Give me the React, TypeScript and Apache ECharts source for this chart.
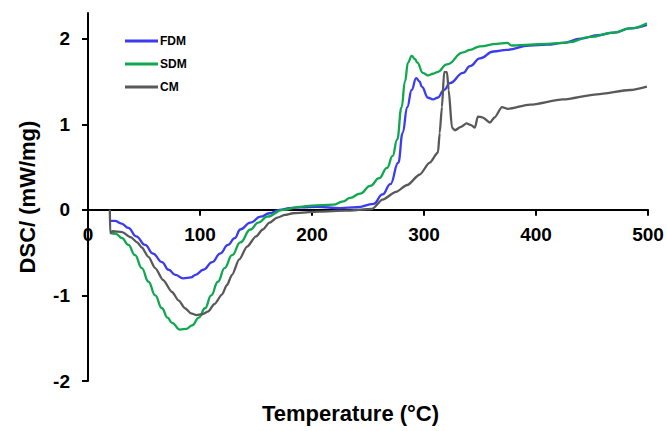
import React, { useEffect, useRef } from "react";
import * as echarts from "echarts";

const xTicks = [0, 100, 200, 300, 400, 500];
const yTicks = [-2, -1, 0, 1, 2];
const seriesNames = ["FDM", "SDM", "CM"];
const seriesColors = ["#3b3bf0", "#0fa84f", "#595959"];
const xTitle = "Temperature (°C)";
const yTitle = "DSC/ (mW/mg)";
const xMin = 0;
const xMax = 500;
const yMin = -2;
const yMax = 2.3;

const fdm: [number, number][] = [
  [19.6, -0.13], [24, -0.13], [30, -0.16], [36, -0.21], [43, -0.31], [51, -0.41],
  [58, -0.51], [66, -0.61], [72, -0.7], [78, -0.76], [85, -0.8], [92, -0.79],
  [96, -0.76], [103, -0.7], [111, -0.61], [118, -0.51], [125, -0.41], [131, -0.33],
  [136, -0.23], [145, -0.15], [154, -0.08], [162, -0.04], [171, 0], [180, 0.02],
  [190, 0.03], [205, 0.035], [225, 0.02], [240, 0.03], [255, 0.07], [263, 0.18],
  [270, 0.3], [277, 0.55], [281, 0.9], [285, 1.2], [289, 1.4], [293, 1.54],
  [296, 1.5], [298, 1.44], [303.6, 1.31], [308, 1.29], [312, 1.31], [318, 1.4],
  [323, 1.48], [335, 1.6], [341, 1.68], [350, 1.77], [362, 1.85], [374, 1.87],
  [394, 1.92], [410, 1.93], [424, 1.95], [440, 2.0], [455, 2.04], [470, 2.07],
  [484, 2.12], [499, 2.16],
];

const sdm: [number, number][] = [
  [19.6, -0.27], [25, -0.28], [30.4, -0.33], [36, -0.41], [42, -0.53], [48, -0.68],
  [54, -0.84], [60, -1.0], [66, -1.15], [71, -1.26], [75, -1.32], [82, -1.4],
  [88, -1.39], [93, -1.35], [99, -1.26], [104.5, -1.15], [110, -1.0], [116, -0.84],
  [122, -0.68], [128.6, -0.53], [136, -0.38], [145, -0.23], [152, -0.15], [160, -0.08],
  [174, 0], [189, 0.035], [200, 0.05], [219, 0.06], [228, 0.1], [234, 0.14],
  [243, 0.19], [252, 0.28], [260, 0.37], [267, 0.49], [272, 0.63], [276, 0.82],
  [280, 1.2], [283, 1.5], [285.7, 1.72], [289, 1.8], [292, 1.76], [294, 1.72],
  [299, 1.6], [303.6, 1.57], [308, 1.59], [312, 1.61], [320.5, 1.7], [335, 1.84],
  [341, 1.87], [350, 1.91], [365, 1.94], [374, 1.95], [378.6, 1.92], [394.6, 1.93],
  [410, 1.94], [424, 1.95], [430, 1.96], [448, 2.02], [469, 2.07], [484, 2.12],
  [499, 2.18],
];

const cm: [number, number][] = [
  [19.5, 0], [19.8, -0.27], [22, -0.25], [30.4, -0.26], [38, -0.32], [44, -0.38],
  [48, -0.44], [54, -0.55], [60, -0.68], [67, -0.82], [75, -0.96], [81, -1.06],
  [86.6, -1.15], [92, -1.21], [97, -1.23], [102, -1.22], [107, -1.19], [113, -1.1],
  [119.6, -0.99], [124, -0.88], [128.6, -0.76], [135, -0.58], [142, -0.43], [150, -0.31],
  [156, -0.23], [162, -0.15], [169, -0.09], [176, -0.06], [183, -0.04], [195, -0.03],
  [207, -0.02], [230, -0.01], [253.6, 0.01], [263, 0.12], [275, 0.21], [285, 0.29],
  [296, 0.41], [305, 0.55], [312.5, 0.67], [314, 0.9], [316, 1.2], [318, 1.61],
  [320.5, 1.61], [322, 1.4], [325, 0.96], [327.7, 0.93], [333, 0.97], [338, 1.01],
  [342, 0.99], [345.5, 0.96], [348, 1.09], [352, 1.08], [359, 1.02], [363, 1.08],
  [369.6, 1.2], [375, 1.18], [394.6, 1.23], [424, 1.29], [454.5, 1.35], [484, 1.4],
  [499, 1.44],
];

const seriesData = [fdm, sdm, cm];

const FONT = "'Liberation Sans', Arial, sans-serif";
const W = 667;
const H = 431;
const GRID = { left: 88, right: 19, top: 13, bottom: 50 };

export default function App() {
  const ref = useRef<HTMLDivElement>(null);
  useEffect(() => {
    if (!ref.current) return;
    const chart = echarts.init(ref.current, undefined, { renderer: "svg" });
    const gridH = H - GRID.top - GRID.bottom;
    // place the x axis on y = 0 (axis offset from the bottom edge of the grid)
    const xAxisOffset = -gridH * ((0 - yMin) / (yMax - yMin));
    chart.setOption({
      animation: false,
      backgroundColor: "#ffffff",
      grid: { ...GRID, containLabel: false },
      legend: {
        orient: "vertical",
        left: 125,
        top: 35,
        padding: 0,
        itemWidth: 33,
        itemHeight: 3,
        itemGap: 11,
        icon: "rect",
        data: seriesNames,
        textStyle: {
          fontFamily: FONT,
          fontWeight: "bold",
          fontSize: 12,
          color: "#000",
          padding: [0, 0, 0, -3],
        },
      },
      graphic: [
        {
          type: "text",
          left: 262,
          top: 402,
          style: {
            text: xTitle,
            fontFamily: FONT,
            fontWeight: "bold",
            fontSize: 22,
            fill: "#000",
          },
        },
      ],
      xAxis: {
        type: "value",
        min: xMin,
        max: xMax,
        interval: 100,
        position: "bottom",
        offset: xAxisOffset,
        axisLine: { onZero: false, lineStyle: { color: "#000", width: 2 } },
        axisTick: { show: true, inside: false, length: 6, lineStyle: { color: "#000", width: 2 } },
        axisLabel: {
          fontFamily: FONT,
          fontWeight: "bold",
          fontSize: 19,
          color: "#000",
          margin: 15,
          customValues: xTicks,
        },
        splitLine: { show: false },
      },
      yAxis: {
        type: "value",
        min: yMin,
        max: yMax,
        interval: 1,
        name: yTitle,
        nameLocation: "middle",
        nameGap: 50,
        nameTextStyle: {
          fontFamily: FONT,
          fontWeight: "bold",
          fontSize: 22,
          color: "#000",
        },
        axisLine: { show: true, onZero: false, lineStyle: { color: "#000", width: 2 } },
        axisTick: {
          show: true,
          inside: false,
          length: 6,
          customValues: yTicks,
          lineStyle: { color: "#000", width: 2 },
        },
        axisLabel: {
          fontFamily: FONT,
          fontWeight: "bold",
          fontSize: 19,
          color: "#000",
          margin: 18,
          customValues: yTicks,
        },
        splitLine: { show: false },
      },
      series: seriesNames.map((name, i) => ({
        name,
        type: "line",
        data: seriesData[i],
        showSymbol: false,
        symbol: "none",
        smooth: i === 2 ? 0.25 : 0.45,
        smoothMonotone: "x",
        lineStyle: { color: seriesColors[i], width: 2.3 },
        itemStyle: { color: seriesColors[i] },
        z: 2 + i,
      })),
    });
    return () => chart.dispose();
  }, []);
  return (
    <div
      ref={ref}
      style={{ position: "fixed", left: 0, top: 0, width: W, height: H, background: "#fff" }}
    />
  );
}
